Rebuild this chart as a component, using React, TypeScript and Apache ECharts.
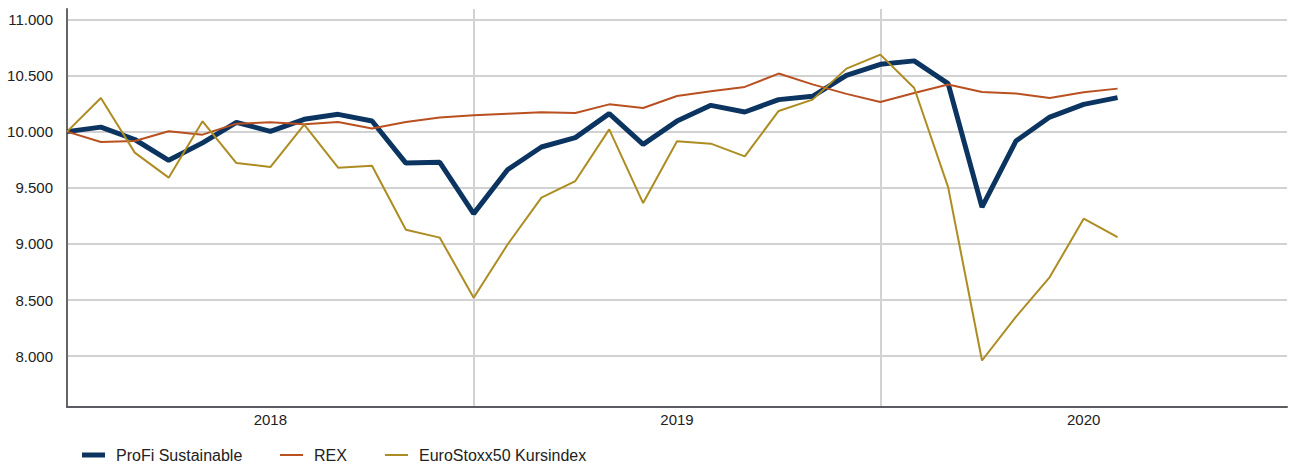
import React, { useEffect, useRef } from "react";
import * as echarts from "echarts";

const months = [
  "2017-12",
  "2018-01", "2018-02", "2018-03", "2018-04", "2018-05", "2018-06",
  "2018-07", "2018-08", "2018-09", "2018-10", "2018-11", "2018-12",
  "2019-01", "2019-02", "2019-03", "2019-04", "2019-05", "2019-06",
  "2019-07", "2019-08", "2019-09", "2019-10", "2019-11", "2019-12",
  "2020-01", "2020-02", "2020-03", "2020-04", "2020-05", "2020-06",
  "2020-07", "2020-08", "2020-09", "2020-10", "2020-11", "2020-12",
];

const profi = [
  10000, 10040, 9930, 9745, 9900, 10083, 10003, 10110, 10154, 10095, 9720, 9727, 9270,
  9661, 9863, 9947, 10160, 9887, 10094, 10234, 10175, 10285, 10315, 10502, 10600,
  10630, 10428, 9328, 9916, 10130, 10243, 10303,
];

const rex = [
  10000, 9907, 9916, 10003, 9973, 10071, 10083, 10065, 10086, 10027, 10086, 10125, 10145,
  10160, 10172, 10166, 10243, 10210, 10317, 10359, 10398, 10517, 10421, 10336, 10264,
  10344, 10419, 10353, 10339, 10300, 10350, 10383,
];

const eurostoxx = [
  10000, 10300, 9813, 9590, 10092, 9720, 9685, 10062, 9679, 9697, 9127, 9056, 8521,
  8995, 9412, 9560, 10020, 9364, 9914, 9893, 9780, 10184, 10285, 10561, 10686,
  10389, 9506, 7962, 8350, 8705, 9225, 9061,
];

const seriesNames = ["ProFi Sustainable", "REX", "EuroStoxx50 Kursindex"];
const colors = ["#0c3461", "#b9501f", "#ad8c22"];
const yearLabelIdx = [6, 18, 30];
const yearLineIdx = [12, 24];

const fmt = (v: number) =>
  Math.round(v).toString().replace(/\B(?=(\d{3})+(?!\d))/g, ".");

export default function App() {
  const ref = useRef<HTMLDivElement>(null);
  useEffect(() => {
    if (!ref.current) return;
    const chart = echarts.init(ref.current, null, { renderer: "svg" });
    const font = "'Liberation Sans', Arial, sans-serif";
    const legendLefts = [82, 280, 385];
    const legendHeights = [5, 2, 2];
    chart.setOption({
      animation: false,
      grid: { left: 67, right: 3, top: 9, bottom: 58, containLabel: false },
      legend: seriesNames.map((n, i) => ({
        data: [n],
        left: legendLefts[i],
        top: 447,
        padding: 0,
        icon: "rect",
        itemWidth: 23,
        itemHeight: legendHeights[i],
        selectedMode: false,
        textStyle: {
          fontFamily: font,
          fontSize: 16,
          color: "#222",
          padding: [0, 0, 0, 6],
        },
      })),
      xAxis: {
        type: "category",
        data: months,
        boundaryGap: false,
        axisLine: { show: true, lineStyle: { color: "#5b5b62", width: 2 } },
        axisTick: { show: false },
        axisLabel: {
          interval: (i: number) => yearLabelIdx.includes(i),
          formatter: (v: string) => v.slice(0, 4),
          fontFamily: font,
          fontSize: 15,
          color: "#222",
          margin: 5,
        },
        splitLine: {
          show: true,
          interval: (i: number) => yearLineIdx.includes(i),
          lineStyle: { color: "#d2d2d2", width: 2 },
        },
      },
      yAxis: {
        type: "value",
        min: 7548,
        max: 11092,
        splitNumber: 7,
        minInterval: 500,
        maxInterval: 500,
        axisLine: { show: true, lineStyle: { color: "#666", width: 2 } },
        axisTick: { show: false },
        axisLabel: {
          showMinLabel: false,
          showMaxLabel: false,
          formatter: (v: number) => (v % 500 === 0 ? fmt(v) : ""),
          fontFamily: font,
          fontSize: 15,
          color: "#222",
          margin: 14,
        },
        splitLine: {
          show: true,
          showMinLine: false,
          showMaxLine: false,
          lineStyle: { color: "#d2d2d2", width: 2 },
        },
      },
      series: [profi, rex, eurostoxx].map((d, i) => ({
        name: seriesNames[i],
        type: "line",
        data: d,
        symbol: "none",
        showSymbol: false,
        color: colors[i],
        lineStyle: { color: colors[i], width: i === 0 ? 5 : 2 },
      })),
    });
    return () => chart.dispose();
  }, []);
  return (
    <div
      ref={ref}
      style={{ position: "absolute", left: 0, top: 0, width: 1290, height: 465 }}
    />
  );
}
